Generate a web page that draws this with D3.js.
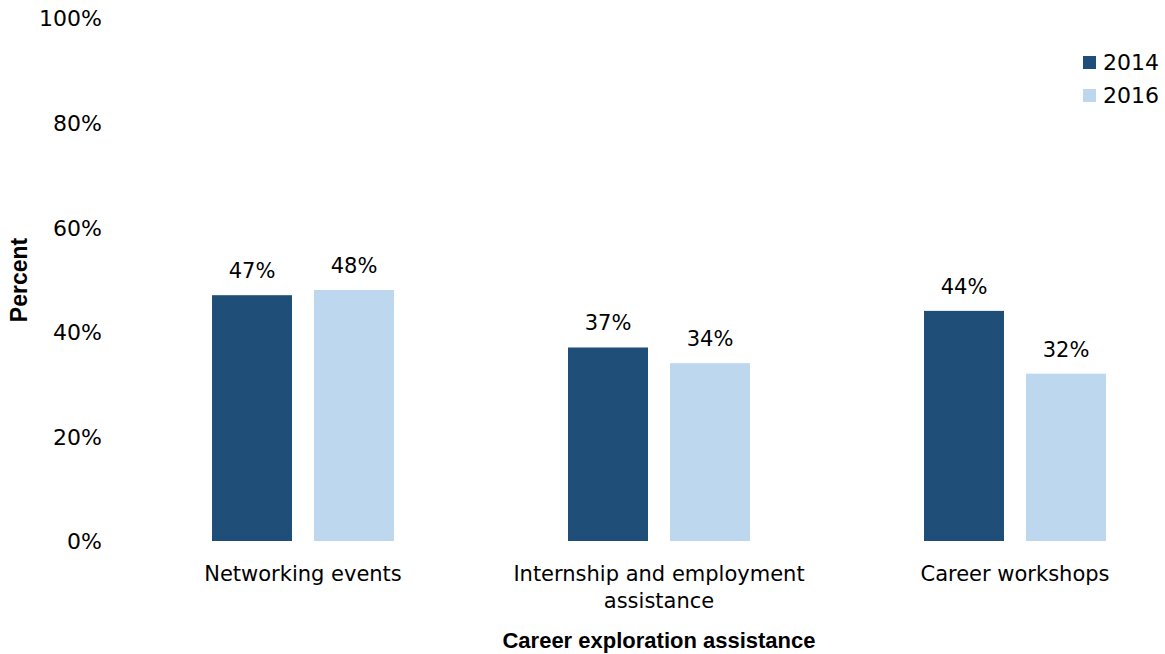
<!DOCTYPE html>
<html>
<head>
<meta charset="utf-8">
<script src="https://cdn.jsdelivr.net/npm/d3@7"></script>
<style>
  html, body { margin: 0; padding: 0; background: #fff; }
  svg { display: block; }
  text { fill: #000; }
</style>
</head>
<body>
<svg id="chart" width="1165" height="654"></svg>
<script>
// Categories, series and tick values
const categories = ["Networking events", "Internship and employment assistance", "Career workshops"];
const categoryLines = [["Networking events"], ["Internship and employment", "assistance"], ["Career workshops"]];
const seriesNames = ["2014", "2016"];
const values2014 = [47, 37, 44];
const values2016 = [48, 34, 32];
const yTicks = [0, 20, 40, 60, 80, 100];
const colors = ["#1F4E79", "#BDD7EE"];

const svg = d3.select("#chart");
const bodyFont = "'DejaVu Sans', Verdana, sans-serif";
const titleFont = "'Liberation Sans', Arial, sans-serif";

// Plot area
const plot = { left: 125, right: 1193, top: 18, bottom: 541 };

const x = d3.scaleBand()
  .domain(categories)
  .range([plot.left, plot.right])
  .paddingInner(0.49)
  .paddingOuter(0.245);

const xInner = d3.scalePoint()
  .domain(seriesNames)
  .range([0, 1]);

const y = d3.scaleLinear()
  .domain([0, 100])
  .range([plot.bottom, plot.top]);

const barWidth = 80;
const barGap = 22;
const groupWidth = barWidth * 2 + barGap;

const data = categories.map((c, i) => ({
  category: c,
  values: [
    { series: seriesNames[0], value: values2014[i] },
    { series: seriesNames[1], value: values2016[i] }
  ]
}));

// Y axis tick labels (no axis line, no gridlines)
const yAxis = d3.axisLeft(y)
  .tickValues(yTicks)
  .tickFormat(d => d + "%")
  .tickSize(0)
  .tickPadding(0);

const yg = svg.append("g")
  .attr("transform", `translate(102,0)`)
  .call(yAxis);
yg.select(".domain").remove();
yg.selectAll("text")
  .attr("font-size", 22)
  .attr("font-family", bodyFont)
  .attr("fill", "#000")
  .attr("dy", "0.36em");

// Bars
const groups = svg.append("g").selectAll("g")
  .data(data)
  .join("g")
  .attr("transform", d => {
    const cx = x(d.category) + x.bandwidth() / 2;
    return `translate(${cx - groupWidth / 2},0)`;
  });

groups.selectAll("rect")
  .data(d => d.values)
  .join("rect")
  .attr("x", d => xInner(d.series) * (barWidth + barGap))
  .attr("y", d => y(d.value))
  .attr("width", barWidth)
  .attr("height", d => y(0) - y(d.value))
  .attr("fill", (d, i) => colors[i]);

// Value labels
groups.selectAll("text.value")
  .data(d => d.values)
  .join("text")
  .attr("class", "value")
  .attr("x", d => xInner(d.series) * (barWidth + barGap) + barWidth / 2)
  .attr("y", d => y(d.value) - 17)
  .attr("text-anchor", "middle")
  .attr("font-family", bodyFont)
  .attr("font-size", 21)
  .text(d => d.value + "%");

// Category labels
const xg = svg.append("g");
categories.forEach((c, i) => {
  const cx = x(c) + x.bandwidth() / 2;
  const t = xg.append("text")
    .attr("x", cx)
    .attr("y", 581)
    .attr("text-anchor", "middle")
    .attr("font-family", bodyFont)
    .attr("font-size", 21);
  categoryLines[i].forEach((line, j) => {
    t.append("tspan")
      .attr("x", cx)
      .attr("dy", j === 0 ? 0 : 27)
      .text(line);
  });
});

// Axis titles
svg.append("text")
  .attr("x", (x(categories[1]) + x.bandwidth() / 2))
  .attr("y", 648)
  .attr("text-anchor", "middle")
  .attr("font-size", 22)
  .attr("font-weight", "bold")
  .attr("font-family", titleFont)
  .text("Career exploration assistance");

svg.append("text")
  .attr("transform", "translate(27,280) rotate(-90)")
  .attr("text-anchor", "middle")
  .attr("font-size", 23)
  .attr("font-weight", "bold")
  .attr("font-family", titleFont)
  .text("Percent");

// Legend
const legend = svg.append("g").attr("transform", "translate(1083,56)");
seriesNames.forEach((s, i) => {
  const g = legend.append("g").attr("transform", `translate(0,${i * 33})`);
  g.append("rect")
    .attr("x", 0).attr("y", 0)
    .attr("width", 13).attr("height", 13)
    .attr("fill", colors[i]);
  g.append("text")
    .attr("x", 20).attr("y", 14)
    .attr("font-family", bodyFont)
    .attr("font-size", 22)
    .text(s);
});
</script>
</body>
</html>
